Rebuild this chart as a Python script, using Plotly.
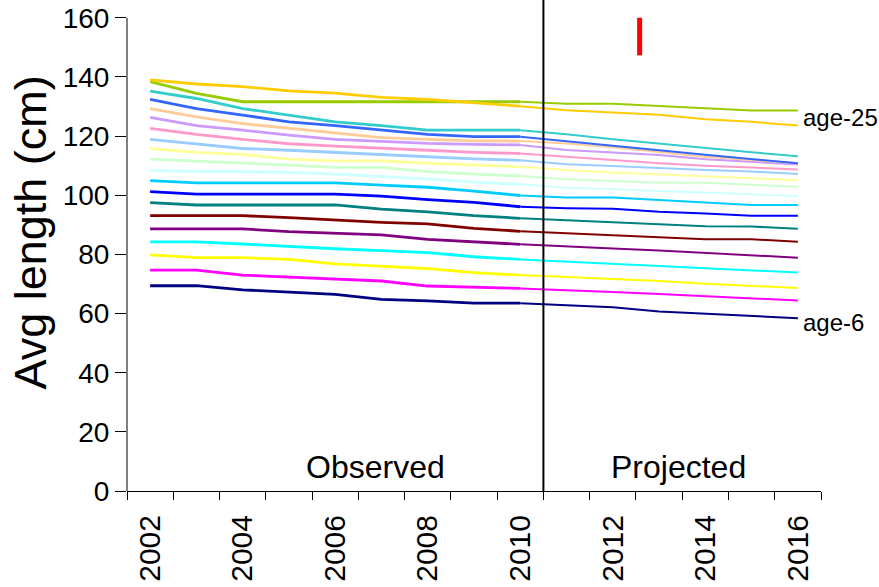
import plotly.graph_objects as go

years = list(range(2002, 2017))
ages = list(range(6, 26))

# average length (cm) by age, 2002-2016 (2002-2010 observed, 2011-2016 projected)
age6 = [69.4, 69.4, 68.0, 67.3, 66.5, 64.8, 64.3, 63.5, 63.5, 62.7, 62.1, 60.7, 59.9, 59.2, 58.4]
age7 = [74.7, 74.7, 73.0, 72.3, 71.6, 71.0, 69.3, 68.8, 68.5, 68.0, 67.3, 66.6, 65.8, 65.2, 64.4]
age8 = [79.8, 78.9, 78.9, 78.3, 76.8, 76.1, 75.2, 73.8, 73.0, 72.4, 71.7, 71.0, 70.1, 69.4, 68.6]
age9 = [84.2, 84.2, 83.5, 82.6, 81.9, 81.3, 80.6, 79.2, 78.3, 77.6, 77.0, 76.1, 75.3, 74.7, 73.9]
age10 = [88.6, 88.6, 88.6, 87.7, 87.1, 86.6, 85.1, 84.2, 83.4, 82.6, 82.0, 81.3, 80.5, 79.7, 78.9]
age11 = [93.1, 93.1, 93.1, 92.4, 91.6, 90.8, 90.3, 88.8, 87.8, 87.1, 86.6, 85.8, 85.1, 85.1, 84.3]
age12 = [97.5, 96.7, 96.7, 96.7, 96.7, 95.3, 94.4, 93.1, 92.2, 91.5, 90.8, 90.2, 89.5, 89.4, 88.7]
age13 = [101.2, 100.4, 100.4, 100.4, 100.4, 99.7, 98.5, 97.6, 96.1, 95.6, 95.4, 94.4, 93.8, 93.1, 93.1]
age14 = [104.9, 104.2, 104.2, 104.2, 104.2, 103.4, 102.7, 101.4, 99.9, 99.2, 99.2, 98.4, 97.6, 96.7, 96.7]
age15 = [108.5, 108.0, 108.0, 107.7, 107.1, 106.3, 105.5, 104.4, 103.7, 102.5, 102.0, 101.5, 101.0, 100.3, 99.7]
age16 = [112.2, 111.6, 110.8, 110.2, 109.4, 109.4, 108.0, 107.1, 106.5, 105.4, 104.8, 104.2, 104.2, 103.5, 102.9]
age17 = [115.8, 114.5, 113.8, 112.2, 111.6, 111.6, 110.8, 110.2, 109.6, 108.5, 107.7, 107.1, 106.5, 105.9, 105.1]
age18 = [118.9, 117.4, 115.8, 115.2, 114.4, 113.6, 113.0, 112.3, 111.8, 110.5, 109.9, 109.1, 108.5, 108.0, 107.2]
age19 = [122.6, 120.6, 118.9, 117.4, 116.6, 115.8, 115.2, 114.5, 114.1, 113.0, 112.1, 110.8, 110.0, 109.4, 108.7]
age20 = [126.3, 123.5, 122.0, 120.3, 118.9, 118.1, 117.5, 117.2, 117.0, 115.3, 114.4, 113.6, 112.2, 111.3, 110.4]
age21 = [129.3, 126.5, 124.2, 122.6, 121.0, 119.5, 118.9, 118.4, 118.3, 117.5, 116.2, 114.6, 113.0, 111.9, 110.9]
age22 = [132.4, 129.3, 127.1, 124.8, 123.5, 122.0, 120.6, 119.8, 119.8, 118.2, 116.7, 115.2, 113.7, 112.2, 110.8]
age23 = [135.2, 132.7, 129.3, 127.1, 124.8, 123.5, 122.0, 122.0, 122.0, 120.6, 118.9, 117.4, 116.0, 114.5, 113.2]
age24 = [138.4, 134.4, 131.6, 131.6, 131.6, 131.6, 131.6, 131.6, 131.6, 130.9, 130.9, 130.1, 129.5, 128.6, 128.6]
age25 = [139.0, 137.6, 136.7, 135.3, 134.5, 133.1, 132.4, 131.3, 130.1, 128.7, 128.0, 127.2, 125.7, 124.8, 123.6]

series = [age6, age7, age8, age9, age10, age11, age12, age13, age14, age15,
          age16, age17, age18, age19, age20, age21, age22, age23, age24, age25]

colors = ["#000080", "#FF00FF", "#FFFF00", "#00FFFF", "#800080", "#800000", "#008080",
          "#0000FF", "#00CCFF", "#CCFFFF", "#CCFFCC", "#FFFF99", "#99CCFF", "#FF99CC",
          "#CC99FF", "#FFCC99", "#3366FF", "#33CCCC", "#99CC00", "#FFCC00"]

last_observed_year = 2010
divider_year = 2010.5
red_marker_year = 2012.58
red_marker_range = [147.3, 160]
y_ticks = list(range(0, 161, 20))
x_tick_labels = list(range(2002, 2017, 2))

FONT = "Liberation Sans, Arial, sans-serif"

fig = go.Figure()
split = years.index(last_observed_year)
for age, vals, col in zip(ages, series, colors):
    fig.add_trace(go.Scatter(x=years[:split + 1], y=vals[:split + 1], mode="lines",
                             line=dict(color=col, width=2.8), name=f"age-{age}",
                             showlegend=False, hoverinfo="x+y+name"))
    fig.add_trace(go.Scatter(x=years[split:], y=vals[split:], mode="lines",
                             line=dict(color=col, width=2.0), name=f"age-{age}",
                             showlegend=False, hoverinfo="x+y+name"))

# left y-axis line (0..160) and divider / marker lines
fig.add_shape(type="line", xref="paper", yref="y", x0=0, x1=0, y0=0, y1=max(y_ticks),
              line=dict(color="black", width=1))
fig.add_shape(type="line", xref="x", yref="paper", x0=divider_year, x1=divider_year,
              y0=0, y1=1, line=dict(color="black", width=2))
fig.add_shape(type="line", xref="x", yref="y", x0=red_marker_year, x1=red_marker_year,
              y0=red_marker_range[0], y1=red_marker_range[1], line=dict(color="#FF0000", width=5))

fig.add_annotation(text="Observed", x=2006.87, y=8.2, xref="x", yref="y", showarrow=False,
                   font=dict(family=FONT, size=32, color="black"))
fig.add_annotation(text="Projected", x=2013.43, y=8.2, xref="x", yref="y", showarrow=False,
                   font=dict(family=FONT, size=32, color="black"))
fig.add_annotation(text="age-25", x=years[-1], y=age25[-1], xref="x", yref="y", showarrow=False,
                   xanchor="left", xshift=3, yshift=8, font=dict(family=FONT, size=24, color="black"))
fig.add_annotation(text="age-6", x=years[-1], y=age6[-1], xref="x", yref="y", showarrow=False,
                   xanchor="left", xshift=3, yshift=-4, font=dict(family=FONT, size=24, color="black"))
fig.add_annotation(text="Avg length (cm)", xref="paper", yref="paper", x=0, y=0.5,
                   xanchor="center", yanchor="middle",
                   xshift=-97, yshift=13, textangle=-90, showarrow=False,
                   font=dict(family=FONT, size=45, color="black"))

fig.update_layout(
    width=879, height=587,
    margin=dict(l=127, r=58, t=0, b=96),
    paper_bgcolor="white", plot_bgcolor="white",
    font=dict(family=FONT, color="black"),
    showlegend=False,
)
fig.update_xaxes(
    range=[2001.5, 2016.5], tickvals=x_tick_labels, ticktext=[str(v) for v in x_tick_labels],
    tickangle=-90, ticks="outside", ticklen=0, ticklabelstandoff=11,
    minor=dict(tick0=2001.5, dtick=1, ticks="outside", ticklen=8, tickcolor="black", tickwidth=1),
    showline=True, linecolor="black", linewidth=1, showgrid=False, zeroline=False,
    tickfont=dict(family=FONT, size=30, color="black"),
)
fig.update_yaxes(
    range=[0, 166], tickvals=y_ticks, ticks="outside", ticklen=11, tickcolor="black", tickwidth=1,
    showline=False, showgrid=False, zeroline=False,
    tickfont=dict(family=FONT, size=28, color="black"),
)

fig.write_html("out.html")
